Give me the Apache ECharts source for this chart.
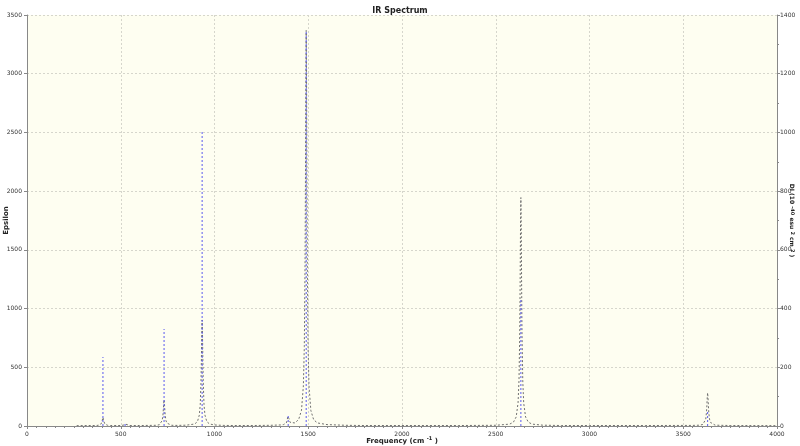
<!DOCTYPE html>
<html>
<head>
<meta charset="utf-8">
<script src="https://cdn.jsdelivr.net/npm/echarts@6/dist/echarts.min.js"></script>
<style>html,body{margin:0;padding:0;background:#fff}#c{width:800px;height:446px}</style>
</head>
<body>
<div id="c"></div>
<script>
// Stick spectrum (right axis, DI 10^-40 esu^2 cm^2)
const stickFreq = [405, 523, 731, 934, 1393, 1489, 2634, 3630];
const stickInt  = [235, 10, 330, 1005, 37, 1346, 436, 48];

// Broadened curve (left axis, Epsilon)
const curveFreq = [265,330,365,380,390,395,399,401,403,405,407,409,411,415,420,430,445,
  500,513,519,523,527,533,548,600,650,691,
  706,716,721,725,727,729,731,733,735,737,741,746,756,771,800,850,894,
  909,919,924,928,930,932,934,936,938,940,944,949,959,974,1000,1050,
  1100,1200,1300,1353,
  1368,1378,1383,1387,1389,1391,1393,1395,1397,1399,1403,1408,
  1429,1449,1464,1474,1479,1483,1485,1487,1489,1491,1493,1495,1499,1504,1514,1529,1549,1600,1700,1800,
  2000,2300,2500,2574,2594,
  2609,2619,2624,2628,2630,2632,2634,2636,2638,2640,2644,2649,2659,2674,2694,2750,2850,
  3000,3300,3550,3590,
  3605,3615,3620,3624,3626,3628,3630,3632,3634,3636,3640,3645,3655,3670,3750,3995];
const curveEps = [3,4,4,6,10,17,32,46,63,73,63,46,32,17,10,6,4,
  4,7,15,23,15,7,4,4,5,6,
  11,25,47,93,137,193,223,193,137,93,47,25,11,6,5,7,17,
  37,93,183,372,552,779,903,779,552,372,183,93,37,17,9,5,
  4,4,6,9,
  12,18,26,44,61,82,94,83,63,47,31,26,
  26,56,134,343,676,1383,2056,2904,3368,2904,2056,1383,676,340,131,53,26,12,6,4,
  4,4,6,16,32,
  77,197,391,799,1188,1677,1945,1677,1188,799,391,197,77,32,16,7,4,
  4,4,5,7,
  14,31,59,118,174,244,283,244,174,118,59,31,14,7,4,3];

// Axis ranges / tick steps
const xMin = 0, xMax = 4000, xStep = 500;
const epsMin = 0, epsMax = 3500, epsStep = 500;
const diMin = 0, diMax = 1400, diStep = 200;

const curveData = curveFreq.map((f, i) => [f, curveEps[i]]);
const stickData = stickFreq.map((f, i) => [f, stickInt[i]]);

const chart = echarts.init(document.getElementById('c'), null, {renderer: 'canvas'});
const plain = v => String(v);
const lab = {fontSize: 6, color: '#333', fontFamily: 'DejaVu Sans', formatter: plain};
const gridLine = {show: true, lineStyle: {color: '#d6d6cc', type: [2, 2], width: 1}};
chart.setOption({
  animation: false,
  backgroundColor: '#ffffff',
  title: {
    text: 'IR Spectrum', left: 'center', top: 2,
    textStyle: {fontSize: 8, fontWeight: 'bold', color: '#222', fontFamily: 'DejaVu Sans'}
  },
  grid: {
    left: 27, right: 23, top: 15, bottom: 20,
    containLabel: false, outerBoundsMode: 'none',
    show: true, backgroundColor: '#fefef1', borderWidth: 0
  },
  xAxis: {
    type: 'value', min: xMin, max: xMax, interval: xStep,
    offset: 2,
    name: 'Frequency (cm {sup|-1} )', nameLocation: 'middle', nameGap: 8, nameMoveOverlap: false,
    nameTextStyle: {fontSize: 7, fontWeight: 'bold', color: '#222', fontFamily: 'DejaVu Sans',
      rich: {sup: {fontSize: 5, fontWeight: 'bold', verticalAlign: 'top', padding: [0,0,5,0]}}},
    axisLine: {show: true, lineStyle: {color: '#888', width: 1}},
    axisTick: {show: true, length: 3, lineStyle: {color: '#888'}},
    minorTick: {show: true, splitNumber: 10, length: 2, lineStyle: {color: '#888'}},
    axisLabel: Object.assign({margin: 3}, lab),
    splitLine: gridLine
  },
  yAxis: [{
    type: 'value', min: epsMin, max: epsMax, interval: epsStep,
    offset: 3,
    name: 'Epsilon', nameLocation: 'middle', nameGap: 14, nameMoveOverlap: false,
    nameTextStyle: {fontSize: 7, fontWeight: 'bold', color: '#222', fontFamily: 'DejaVu Sans'},
    axisLine: {show: true, lineStyle: {color: '#888'}},
    axisTick: {show: true, length: 3, lineStyle: {color: '#888'}},
    axisLabel: Object.assign({margin: 2}, lab),
    splitLine: gridLine
  }, {
    type: 'value', min: diMin, max: diMax, interval: diStep, position: 'right',
    offset: 0,
    name: 'DI (10 {sup|-40} esu {sup|2} cm {sup|2} )', nameLocation: 'middle', nameGap: 12, nameRotate: -90,
    nameMoveOverlap: false,
    nameTextStyle: {fontSize: 6, fontWeight: 'bold', color: '#222', fontFamily: 'DejaVu Sans',
      rich: {sup: {fontSize: 5, fontWeight: 'bold'}}},
    axisLine: {show: true, lineStyle: {color: '#888'}},
    axisTick: {show: true, length: 3, lineStyle: {color: '#888'}},
    minorTick: {show: true, splitNumber: 2, length: 2, lineStyle: {color: '#888'}},
    axisLabel: Object.assign({margin: 3}, lab),
    splitLine: {show: false}
  }],
  series: [{
    type: 'line', yAxisIndex: 0, data: curveData, showSymbol: false, symbol: 'none',
    lineStyle: {color: '#707070', width: 1, type: [2, 2]}, z: 3
  }, {
    type: 'custom', yAxisIndex: 1, data: stickData, z: 4,
    renderItem: function (params, api) {
      const p0 = api.coord([api.value(0), 0]);
      const p1 = api.coord([api.value(0), api.value(1)]);
      return {
        type: 'line',
        shape: {x1: p0[0], y1: p0[1], x2: p1[0], y2: p1[1]},
        style: {stroke: '#5a5aee', lineWidth: 1, lineDash: [2, 2]}
      };
    }
  }]
});
</script>
</body>
</html>
